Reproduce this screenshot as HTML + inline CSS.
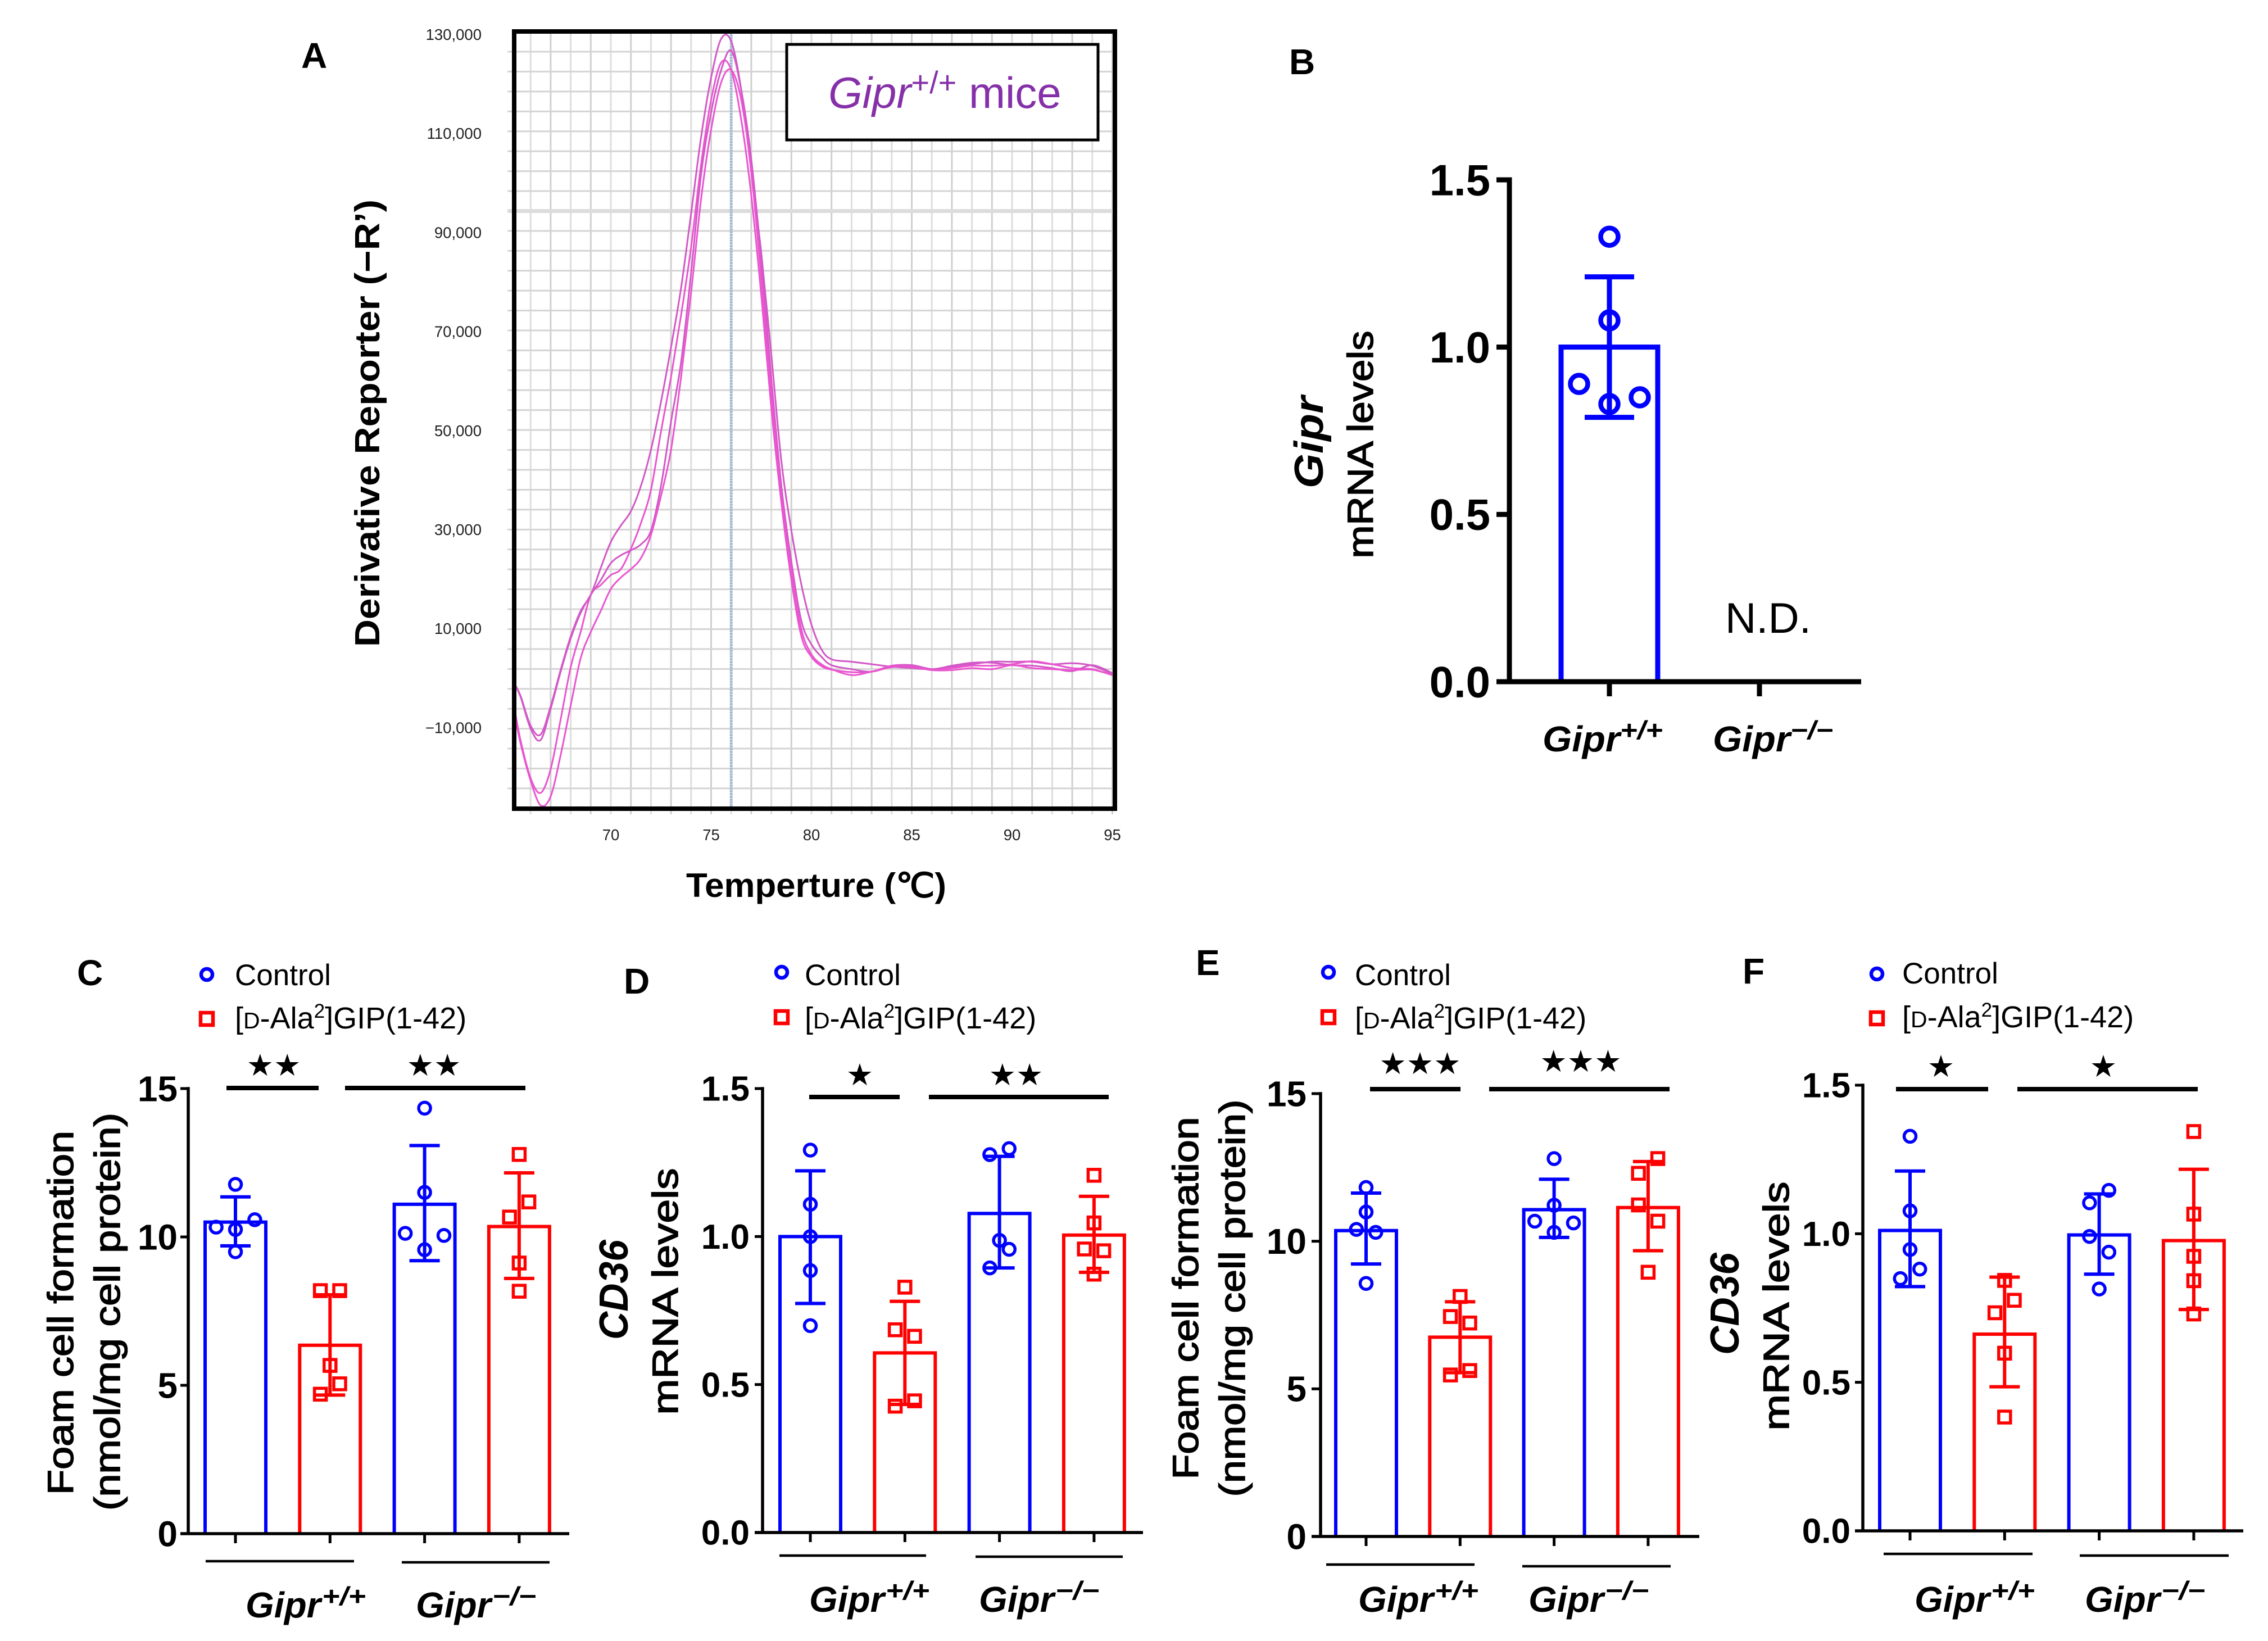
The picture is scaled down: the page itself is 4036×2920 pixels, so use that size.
<!DOCTYPE html>
<html lang="en">
<head>
<meta charset="utf-8">
<title>Gipr melt curve and foam cell panels</title>
<style>
html,body{margin:0;padding:0;background:#fff;}
svg{display:block;}
text{font-family:"Liberation Sans",sans-serif;fill:#000;}
.panel{font-weight:700;font-size:64px;}
.ytitle{font-weight:400;font-size:64px;stroke:#000;stroke-width:1.6px;}
.ybold{font-weight:700;font-style:italic;font-size:72px;}
.gl{font-weight:700;font-style:italic;font-size:64px;}
.gs{font-weight:700;font-style:italic;font-size:46px;}
.leg{font-size:53px;}
.leg2{font-size:54px;}
.star{font-family:"DejaVu Sans",sans-serif;font-size:54px;}
.atick{font-size:27.5px;fill:#222;}
</style>
</head>
<body>
<svg id="figure" xmlns="http://www.w3.org/2000/svg" width="4036" height="2920" viewBox="0 0 4036 2920">
  <rect width="4036" height="2920" fill="#fff"/>

  <!-- Panel A text -->
  <text class="panel" x="536" y="121">A</text>
  <text transform="translate(675,753) rotate(-90)" text-anchor="middle" font-weight="700" font-size="62" textLength="796" lengthAdjust="spacingAndGlyphs">Derivative Reporter (−R’)</text>
  <text x="1221" y="1596" font-weight="700" font-size="60" textLength="463" lengthAdjust="spacingAndGlyphs">Temperture (℃)</text>

  <!-- Panel B text -->
  <text class="panel" x="2294" y="132">B</text>
  <text class="ybold" transform="translate(2354,787) rotate(-90)" text-anchor="middle" textLength="164" lengthAdjust="spacingAndGlyphs">Gipr</text>
  <text class="ytitle" transform="translate(2443,791) rotate(-90)" text-anchor="middle" textLength="405" lengthAdjust="spacingAndGlyphs">mRNA levels</text>
  <text x="3070" y="1126" font-size="76" textLength="153" lengthAdjust="spacingAndGlyphs">N.D.</text>
  <g>
    <text class="gl" x="2745" y="1337" textLength="138" lengthAdjust="spacingAndGlyphs">Gipr</text><text class="gs" x="2883" y="1315" textLength="76" lengthAdjust="spacingAndGlyphs">+/+</text>
    <text class="gl" x="3048" y="1337" textLength="138" lengthAdjust="spacingAndGlyphs">Gipr</text><text class="gs" x="3186" y="1315" textLength="76" lengthAdjust="spacingAndGlyphs">−/−</text>
  </g>

  <!-- Panel C text -->
  <text class="panel" x="137" y="1753">C</text>
  <text class="ytitle" transform="translate(130,2336) rotate(-90)" text-anchor="middle" textLength="648" lengthAdjust="spacingAndGlyphs">Foam cell formation</text>
  <text class="ytitle" transform="translate(213,2334) rotate(-90)" text-anchor="middle" textLength="708" lengthAdjust="spacingAndGlyphs">(nmol/mg cell protein)</text>
  <g>
    <text class="leg" x="418" y="1753">Control</text>
    <text class="leg2" x="418" y="1830">[<tspan font-size="41">D</tspan>-Ala<tspan dy="-19" font-size="35">2</tspan><tspan dy="19">]GIP(1-42)</tspan></text>
  </g>
  <g>
    <text class="gl" x="437" y="2878" textLength="134" lengthAdjust="spacingAndGlyphs">Gipr</text><text class="gs" x="573" y="2856" textLength="78" lengthAdjust="spacingAndGlyphs">+/+</text>
    <text class="gl" x="740" y="2878" textLength="134" lengthAdjust="spacingAndGlyphs">Gipr</text><text class="gs" x="876" y="2856" textLength="78" lengthAdjust="spacingAndGlyphs">−/−</text>
  </g>
  <text class="star" x="487" y="1914" text-anchor="middle">★★</text>
  <text class="star" x="772" y="1914" text-anchor="middle">★★</text>

  <!-- Panel D text -->
  <text class="panel" x="1110" y="1768">D</text>
  <text class="ybold" transform="translate(1117,2295) rotate(-90)" text-anchor="middle" textLength="178" lengthAdjust="spacingAndGlyphs">CD36</text>
  <text class="ytitle" transform="translate(1206,2298) rotate(-90)" text-anchor="middle" textLength="439" lengthAdjust="spacingAndGlyphs">mRNA levels</text>
  <g>
    <text class="leg" x="1432" y="1753">Control</text>
    <text class="leg2" x="1432" y="1830">[<tspan font-size="41">D</tspan>-Ala<tspan dy="-19" font-size="35">2</tspan><tspan dy="19">]GIP(1-42)</tspan></text>
  </g>
  <g>
    <text class="gl" x="1440" y="2868" textLength="134" lengthAdjust="spacingAndGlyphs">Gipr</text><text class="gs" x="1576" y="2846" textLength="78" lengthAdjust="spacingAndGlyphs">+/+</text>
    <text class="gl" x="1742" y="2868" textLength="134" lengthAdjust="spacingAndGlyphs">Gipr</text><text class="gs" x="1878" y="2846" textLength="78" lengthAdjust="spacingAndGlyphs">−/−</text>
  </g>
  <text class="star" x="1530" y="1931" text-anchor="middle">★</text>
  <text class="star" x="1808" y="1931" text-anchor="middle">★★</text>

  <!-- Panel E text -->
  <text class="panel" x="2128" y="1735">E</text>
  <text class="ytitle" transform="translate(2132,2310) rotate(-90)" text-anchor="middle" textLength="645" lengthAdjust="spacingAndGlyphs">Foam cell formation</text>
  <text class="ytitle" transform="translate(2215,2310) rotate(-90)" text-anchor="middle" textLength="707" lengthAdjust="spacingAndGlyphs">(nmol/mg cell protein)</text>
  <g>
    <text class="leg" x="2411" y="1753">Control</text>
    <text class="leg2" x="2411" y="1830">[<tspan font-size="41">D</tspan>-Ala<tspan dy="-19" font-size="35">2</tspan><tspan dy="19">]GIP(1-42)</tspan></text>
  </g>
  <g>
    <text class="gl" x="2417" y="2868" textLength="134" lengthAdjust="spacingAndGlyphs">Gipr</text><text class="gs" x="2553" y="2846" textLength="78" lengthAdjust="spacingAndGlyphs">+/+</text>
    <text class="gl" x="2720" y="2868" textLength="134" lengthAdjust="spacingAndGlyphs">Gipr</text><text class="gs" x="2856" y="2846" textLength="78" lengthAdjust="spacingAndGlyphs">−/−</text>
  </g>
  <text class="star" x="2527" y="1911" text-anchor="middle">★★★</text>
  <text class="star" x="2813" y="1907" text-anchor="middle">★★★</text>

  <!-- Panel F text -->
  <text class="panel" x="3101" y="1750">F</text>
  <text class="ybold" transform="translate(3094,2320) rotate(-90)" text-anchor="middle" textLength="182" lengthAdjust="spacingAndGlyphs">CD36</text>
  <text class="ytitle" transform="translate(3183,2324) rotate(-90)" text-anchor="middle" textLength="443" lengthAdjust="spacingAndGlyphs">mRNA levels</text>
  <g>
    <text class="leg" x="3385" y="1750">Control</text>
    <text class="leg2" x="3385" y="1828">[<tspan font-size="41">D</tspan>-Ala<tspan dy="-19" font-size="35">2</tspan><tspan dy="19">]GIP(1-42)</tspan></text>
  </g>
  <g>
    <text class="gl" x="3407" y="2868" textLength="134" lengthAdjust="spacingAndGlyphs">Gipr</text><text class="gs" x="3543" y="2846" textLength="78" lengthAdjust="spacingAndGlyphs">+/+</text>
    <text class="gl" x="3710" y="2868" textLength="134" lengthAdjust="spacingAndGlyphs">Gipr</text><text class="gs" x="3846" y="2846" textLength="78" lengthAdjust="spacingAndGlyphs">−/−</text>
  </g>
  <text class="star" x="3454" y="1916" text-anchor="middle">★</text>
  <text class="star" x="3743" y="1916" text-anchor="middle">★</text>

  <!-- Significance and group bars -->
  <g stroke="#000" stroke-width="8">
    <line x1="403" x2="567" y1="1936" y2="1936"/><line x1="614" x2="935" y1="1936" y2="1936"/>
    <line x1="1440" x2="1601" y1="1952" y2="1952"/><line x1="1653" x2="1973" y1="1952" y2="1952"/>
    <line x1="2438" x2="2599" y1="1938" y2="1938"/><line x1="2650" x2="2971" y1="1938" y2="1938"/>
    <line x1="3374" x2="3538" y1="1938" y2="1938"/><line x1="3590" x2="3911" y1="1938" y2="1938"/>
  </g>
  <g stroke="#000" stroke-width="4.5">
    <line x1="366" x2="630" y1="2778" y2="2778"/><line x1="715" x2="978" y1="2780" y2="2780"/>
    <line x1="1387" x2="1648" y1="2768" y2="2768"/><line x1="1736" x2="1998" y1="2770" y2="2770"/>
    <line x1="2360" x2="2624" y1="2784" y2="2784"/><line x1="2709" x2="2973" y1="2787" y2="2787"/>
    <line x1="3352" x2="3617" y1="2765" y2="2765"/><line x1="3701" x2="3966" y1="2768" y2="2768"/>
  </g>
  <!-- Legend markers -->
  <g fill="none" stroke-width="6.5">
    <circle cx="368" cy="1734" r="10" stroke="#0000ff"/><rect x="357" y="1802" width="22" height="22" stroke="#ff0000"/>
    <circle cx="1391" cy="1730" r="10" stroke="#0000ff"/><rect x="1380" y="1799" width="22" height="22" stroke="#ff0000"/>
    <circle cx="2364" cy="1730" r="10" stroke="#0000ff"/><rect x="2353" y="1799" width="22" height="22" stroke="#ff0000"/>
    <circle cx="3340" cy="1733" r="10" stroke="#0000ff"/><rect x="3329" y="1801" width="22" height="22" stroke="#ff0000"/>
  </g>
  <g id="melt-chart"></g>
  <g id="bar-charts"></g>
</svg>

<script>
// ---- Panel A data (temperature in deg C, derivative reporter in thousands) ----
const meltTemps = [65.2,65.5,66,66.5,67,67.5,68,68.5,69,69.5,70,70.5,71,71.5,72,72.5,73,73.5,74,74.5,75,75.5,76,76.5,77,77.5,78,78.5,79,79.5,80,80.5,81,82,83,84,85,86,87,88,89,90,91,92,93,94,95];
const meltCurve1 = [-1,-3.4,-9.4,-11.2,-5.5,1.9,8.6,13.8,17,22.5,27.7,31,33.9,39,46.3,56,67,79,94,109.5,121.5,129.3,128.8,119,102.5,86,65.5,44,30,19,11,6,4,3.5,3,2.5,2.2,2,2.5,3,3.5,3.5,3.5,3,3.2,2.7,1];
const meltCurve2 = [-6,-12.4,-20,-23,-18.2,-8.1,2.4,9.6,17,19,21,22.2,26.3,31.5,38.2,50,61,73.5,87.2,104,117,124.5,123,113,97.7,77.4,54.7,35.6,20,8.6,4.5,2.6,1.9,1.4,1.5,2.7,2.8,2,2.2,2.7,2.7,3,3.6,3,2.2,2,0.8];
const meltCurve3 = [-1,-3.6,-10,-12.3,-6,1.5,8.2,13.4,17,20,23.4,25,26,27.2,30,39,52,64,82,102,114.5,123,126.9,119,105,84.6,60.7,39,23.7,11.7,7,4.5,2.8,2,1.5,2.5,2.8,2,2.7,3.3,3.3,2.8,2.7,2.2,1.6,2.8,1.2];
const meltCurve4 = [-7,-13,-20.5,-25.5,-23.7,-15.3,-5.3,4.3,9.5,13.8,18.2,20.5,22.2,24.4,29.1,37,46.3,61,78,97,111,120.5,123,117,102.5,81,58,37,22,10,5,3,2,0.8,1.5,2.4,2.5,1.8,1.8,2.2,2,2.8,2.2,2,1.8,1.9,0.8];
const meltXTicks = ['70','75','80','85','90','95'];
const meltYTicks = ['130,000','110,000','90,000','70,000','50,000','30,000','10,000','−10,000'];
const meltYTickValues = [130,110,90,70,50,30,10,-10];

// ---- Panel B data ----
const bCategories = ['Gipr+/+','Gipr-/-'];
const bYTicks = ['0.0','0.5','1.0','1.5'];
const bMeans = [1.0,null];
const bErrUpper = [1.21,null];
const bErrLower = [0.79,null];
const bPoints = [[1.33,1.08,0.89,0.83,0.85],[]];
const bJitter = [[0,0,-1,0,1],[]];

// ---- Panel C data ----
const cCategories = ['Control Gipr+/+','Peptide Gipr+/+','Control Gipr-/-','Peptide Gipr-/-'];
const cYTicks = ['0','5','10','15'];
const cMeans = [10.5,6.35,11.1,10.35];
const cErrUpper = [11.35,8.05,13.08,12.16];
const cErrLower = [9.7,4.67,9.2,8.6];
const cPoints = [[11.77,10.58,10.33,10.25,9.5],[8.19,8.19,5.67,5.05,4.7],[14.34,11.5,10.12,10.05,9.57],[12.78,11.18,10.67,9.12,8.17]];
const cJitter = [[0,2,-2,0,0],[-1,1,0,1,-1],[0,0,-2,2,0],[0,1,-1,0,0]];

// ---- Panel D data ----
const dCategories = ['Control Gipr+/+','Peptide Gipr+/+','Control Gipr-/-','Peptide Gipr-/-'];
const dYTicks = ['0.0','0.5','1.0','1.5'];
const dMeans = [1.0,0.607,1.078,1.005];
const dErrUpper = [1.222,0.781,1.271,1.136];
const dErrLower = [0.774,0.433,0.894,0.879];
const dPoints = [[1.292,1.109,1.0,0.885,0.699],[0.829,0.685,0.663,0.445,0.427],[1.297,1.277,0.987,0.957,0.894],[1.207,1.046,0.958,0.952,0.873]];
const dJitter = [[0,0,0,0,0],[0,-1,1,1,-1],[1,-1,0,1,-1],[0,0,-1,1,0]];

// ---- Panel E data ----
const eCategories = ['Control Gipr+/+','Peptide Gipr+/+','Control Gipr-/-','Peptide Gipr-/-'];
const eYTicks = ['0','5','10','15'];
const eMeans = [10.36,6.75,11.07,11.14];
const eErrUpper = [11.63,7.95,12.1,12.7];
const eErrLower = [9.23,5.55,10.13,9.68];
const ePoints = [[11.82,10.99,10.4,10.3,8.57],[8.13,7.45,7.23,5.62,5.47],[12.8,11.22,10.68,10.62,10.3],[12.8,12.3,11.23,10.68,8.95]];
const eJitter = [[0,0,-1,1,0],[0,-1,1,1,-1],[0,0,-2,2,0],[1,-1,-1,1,0]];

// ---- Panel F data ----
const fCategories = ['Control Gipr+/+','Peptide Gipr+/+','Control Gipr-/-','Peptide Gipr-/-'];
const fYTicks = ['0.0','0.5','1.0','1.5'];
const fMeans = [1.011,0.662,0.996,0.977];
const fErrUpper = [1.211,0.854,1.134,1.217];
const fErrLower = [0.822,0.485,0.864,0.745];
const fPoints = [[1.328,1.077,0.947,0.881,0.849],[0.843,0.776,0.734,0.598,0.383],[1.146,1.104,0.991,0.938,0.814],[1.344,1.066,0.924,0.842,0.73]];
const fJitter = [[0,0,0,1,-1],[0,1,-1,0,0],[1,-1,-1,1,0],[0,0,0,0,0]];

const SVGNS = 'http://www.w3.org/2000/svg';
function mk(tag, attrs, parent) {
  const el = document.createElementNS(SVGNS, tag);
  for (const k in attrs) el.setAttribute(k, attrs[k]);
  parent.appendChild(el);
  return el;
}

// ---- Melt curve chart ----
const BOX = {left: 915, right: 1984, top: 56, bottom: 1439};
function xMelt(t) { return 1087 + (t - 70) * 35.7; }
function yMelt(v) { return 63 + (130 - v) * 8.81; }
function smoothPath(xs, ys) {
  const pts = xs.map((t, i) => [xMelt(t), yMelt(ys[i])]);
  let d = 'M' + pts[0][0].toFixed(1) + ' ' + pts[0][1].toFixed(1);
  for (let i = 0; i < pts.length - 1; i++) {
    const p0 = pts[Math.max(i - 1, 0)], p1 = pts[i], p2 = pts[i + 1], p3 = pts[Math.min(i + 2, pts.length - 1)];
    const c1x = p1[0] + (p2[0] - p0[0]) / 6, c1y = p1[1] + (p2[1] - p0[1]) / 6;
    const c2x = p2[0] - (p3[0] - p1[0]) / 6, c2y = p2[1] - (p3[1] - p1[1]) / 6;
    d += 'C' + c1x.toFixed(1) + ' ' + c1y.toFixed(1) + ' ' + c2x.toFixed(1) + ' ' + c2y.toFixed(1) + ' ' + p2[0].toFixed(1) + ' ' + p2[1].toFixed(1);
  }
  return d;
}
(function drawMelt() {
  const root = document.getElementById('melt-chart');
  const defs = mk('defs', {}, root);
  const clip = mk('clipPath', {id: 'melt-clip'}, defs);
  mk('rect', {x: BOX.left, y: BOX.top, width: BOX.right - BOX.left, height: BOX.bottom - BOX.top}, clip);

  const grid = mk('g', {stroke: '#d4d4d4', 'stroke-width': 3}, root);
  
  
  for (let t = 66; t <= 95; t++) {
    mk('line', {x1: xMelt(t), x2: xMelt(t), y1: BOX.top, y2: BOX.bottom + 10, stroke: t % 2 ? '#d0d0d0' : '#dedede'}, grid);
  }
  for (let k = 0; k < 38; k++) {
    const gy = 92 + 35.43 * k;
    const wide = k === 8;
    mk('line', {x1: BOX.left - 12, x2: BOX.right, y1: gy, y2: gy, 'stroke-width': wide ? 7 : 3, stroke: wide ? '#dcdcdc' : '#d4d4d4'}, grid);
  }

  const marker = mk('line', {x1: xMelt(76), x2: xMelt(76), y1: BOX.top, y2: BOX.bottom, stroke: '#a5bad4', 'stroke-width': 5, 'stroke-dasharray': '4 1'}, root);
  
  

  const curves = [meltCurve1, meltCurve2, meltCurve3, meltCurve4];
  const curveGroup = mk('g', {'clip-path': 'url(#melt-clip)', fill: 'none', 'stroke-linejoin': 'round'}, root);
  
  
  curves.forEach(function (c, i) {
    const p = mk('path', {d: smoothPath(meltTemps, c), stroke: i % 2 ? '#ea55d0' : '#d259c6', 'stroke-width': 3}, curveGroup);
    
    
  });

  const box = mk('rect', {x: BOX.left, y: BOX.top, width: BOX.right - BOX.left, height: BOX.bottom - BOX.top, fill: 'none', stroke: '#000', 'stroke-width': 8}, root);
  
  

  meltXTicks.forEach(function (label) {
    const t = mk('text', {x: xMelt(parseFloat(label)), y: 1495, 'text-anchor': 'middle', class: 'atick'}, root);
    t.textContent = label;
    
    
  });
  meltYTicks.forEach(function (label, i) {
    const t = mk('text', {x: 857, y: yMelt(meltYTickValues[i]) + 8, 'text-anchor': 'end', class: 'atick'}, root);
    t.textContent = label;
    
    
  });

  const legendBox = mk('rect', {x: 1400, y: 79, width: 554, height: 170, fill: '#fff', stroke: '#000', 'stroke-width': 5}, root);
  
  
  const callout = mk('text', {x: 1474, y: 192, 'font-size': 78, style: 'fill:#8530a8'}, root);
  
  
  const s1 = mk('tspan', {'font-style': 'italic', style: 'fill:#8530a8'}, callout); s1.textContent = 'Gipr';
  const s2 = mk('tspan', {dy: -26, 'font-size': 56, style: 'fill:#8530a8'}, callout); s2.textContent = '+/+';
  const s3 = mk('tspan', {dy: 26, style: 'fill:#8530a8'}, callout); s3.textContent = ' mice';
})();

// ---- Bar charts ----
const barPanels = [
  {id:'b', means:bMeans, upper:bErrUpper, lower:bErrLower, points:bPoints, jitter:bJitter, ticks:bYTicks, categories:bCategories,
   axisX:2686, axisEnd:3312, tickLeft:2663, y0:1213, yTop:320, yMax:1.5, first:2864, step:267, half:86, slot:54, capHalf:44,
   labelRight:2652, labelSize:78, axisW:9, barW:9, errW:9, tickDown:26, r:15.5, markW:8.5, tickW:9},
  {id:'c', means:cMeans, upper:cErrUpper, lower:cErrLower, points:cPoints, jitter:cJitter, ticks:cYTicks, categories:cCategories,
   axisX:335, axisEnd:1013, tickLeft:321, y0:2729, yTop:1937, yMax:15, first:419, step:168.3, half:54, slot:17.2, capHalf:27,
   labelRight:316, labelSize:64, axisW:5.5, barW:6, errW:6, tickDown:17, r:10.5, markW:5.5, tickW:5},
  {id:'d', means:dMeans, upper:dErrUpper, lower:dErrLower, points:dPoints, jitter:dJitter, ticks:dYTicks, categories:dCategories,
   axisX:1357, axisEnd:2034, tickLeft:1343, y0:2727, yTop:1937, yMax:1.5, first:1442, step:168.3, half:54, slot:17.2, capHalf:27,
   labelRight:1334, labelSize:62, axisW:5.5, barW:6, errW:6, tickDown:17, r:10.5, markW:5.5, tickW:5},
  {id:'e', means:eMeans, upper:eErrUpper, lower:eErrLower, points:ePoints, jitter:eJitter, ticks:eYTicks, categories:eCategories,
   axisX:2350, axisEnd:3024, tickLeft:2334, y0:2734, yTop:1946, yMax:15, first:2431, step:167.3, half:54, slot:17.2, capHalf:27,
   labelRight:2325, labelSize:64, axisW:5.5, barW:6, errW:6, tickDown:17, r:10.5, markW:5.5, tickW:5},
  {id:'f', means:fMeans, upper:fErrUpper, lower:fErrLower, points:fPoints, jitter:fJitter, ticks:fYTicks, categories:fCategories,
   axisX:3315, axisEnd:3992, tickLeft:3301, y0:2724, yTop:1931, yMax:1.5, first:3399, step:168.3, half:54, slot:17.2, capHalf:27,
   labelRight:3293, labelSize:62, axisW:5.5, barW:6, errW:6, tickDown:17, r:10.5, markW:5.5, tickW:5}
];

function drawBarPanel(P) {
  const host = document.getElementById('bar-charts');
  const g = mk('g', {}, host);
  
  
  function yScale(v) { return P.y0 - (v / P.yMax) * (P.y0 - P.yTop); }
  function xBand(i) { return P.first + i * P.step; }

  P.categories.forEach(function (cat, i) {
    const color = P.id !== 'b' && i % 2 === 1 ? '#ff0000' : '#0000ff';
    const isSquare = color === '#ff0000';
    const cx = xBand(i);
    if (P.means[i] !== null) {
      const top = yScale(P.means[i]);
      const bar = mk('path', {d: 'M' + (cx - P.half) + ' ' + P.y0 + 'V' + top + 'H' + (cx + P.half) + 'V' + P.y0, fill: 'none', stroke: color, 'stroke-width': P.barW}, g);
      
      

      const yu = yScale(P.upper[i]);
      const yl = yScale(P.lower[i]);
      const err = mk('path', {d: 'M' + cx + ' ' + yu + 'V' + yl + 'M' + (cx - P.capHalf) + ' ' + yu + 'H' + (cx + P.capHalf) + 'M' + (cx - P.capHalf) + ' ' + yl + 'H' + (cx + P.capHalf), fill: 'none', stroke: color, 'stroke-width': P.errW}, g);
      
      
    }
    P.points[i].forEach(function (v, j) {
      const px = cx + P.jitter[i][j] * P.slot;
      const py = yScale(v);
      let m;
      if (isSquare) {
        m = mk('rect', {x: px - P.r, y: py - P.r, width: 2 * P.r, height: 2 * P.r, fill: 'none', stroke: color, 'stroke-width': P.markW}, g);
      } else {
        m = mk('circle', {cx: px, cy: py, r: P.r, fill: 'none', stroke: color, 'stroke-width': P.markW}, g);
      }
      
      
    });
  });

  const yAxis = mk('line', {x1: P.axisX, x2: P.axisX, y1: P.yTop - P.axisW / 2, y2: P.y0, stroke: '#000', 'stroke-width': P.axisW}, g);
  
  
  const xAxis = mk('line', {x1: P.tickLeft, x2: P.axisEnd, y1: P.y0, y2: P.y0, stroke: '#000', 'stroke-width': P.axisW}, g);
  
  

  P.ticks.forEach(function (label) {
    const ty = yScale(parseFloat(label));
    const tk = mk('line', {x1: P.tickLeft, x2: P.axisX, y1: ty, y2: ty, stroke: '#000', 'stroke-width': P.tickW}, g);
    
    
    const t = mk('text', {x: P.labelRight, y: ty + P.labelSize * 0.35, 'text-anchor': 'end', 'font-weight': 700, 'font-size': P.labelSize}, g);
    t.textContent = label;
    
    
  });
  P.categories.forEach(function (cat, i) {
    const tk = mk('line', {x1: xBand(i), x2: xBand(i), y1: P.y0, y2: P.y0 + P.tickDown, stroke: '#000', 'stroke-width': P.tickW}, g);
    
    
  });
}
barPanels.forEach(drawBarPanel);
</script>
</body>
</html>
